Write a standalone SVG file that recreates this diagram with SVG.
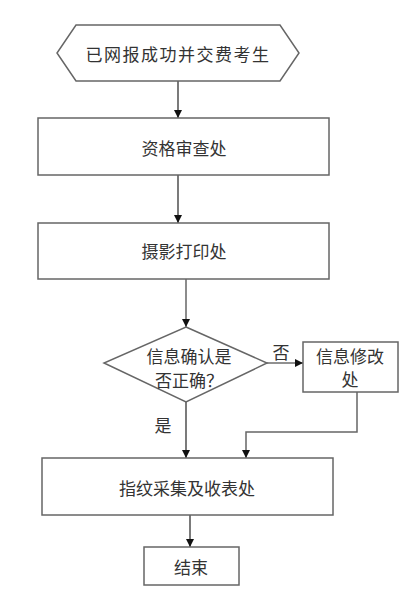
<svg xmlns="http://www.w3.org/2000/svg" width="416" height="611" viewBox="0 0 416 611">
<style>
.box{fill:#fff;stroke:#666;stroke-width:1.5}
.t{font-family:"Noto Sans CJK SC","Noto Sans CJK JP",sans-serif;font-size:17px;fill:#333;text-anchor:middle;dominant-baseline:central}
.c{fill:none;stroke:#222;stroke-width:1.2}
.g{fill:none;stroke:#666;stroke-width:1.5}
</style>
<defs>
<marker id="ah" viewBox="0 0 8 8" refX="8" refY="4" markerWidth="8" markerHeight="8" markerUnits="userSpaceOnUse" orient="auto">
<path d="M0,0 L8,4 L0,8 Z" fill="#111"/>
</marker>
</defs>
<rect width="416" height="611" fill="#fff"/>
<g id="connectors">
<line class="c" x1="178" y1="81" x2="178" y2="118" marker-end="url(#ah)"/>
<line class="c" x1="178" y1="175" x2="178" y2="223" marker-end="url(#ah)"/>
<line class="g" x1="186" y1="279" x2="186" y2="327" marker-end="url(#ah)"/>
<line class="c" x1="267" y1="363" x2="303" y2="363" marker-end="url(#ah)"/>
<line class="c" x1="186" y1="402" x2="186" y2="458" marker-end="url(#ah)"/>
<polyline class="g" points="357,392 357,432 246,432 246,458" marker-end="url(#ah)"/>
<line class="c" x1="190" y1="515" x2="190" y2="547" marker-end="url(#ah)"/>
<text class="t" x="281" y="351">否</text>
<text class="t" x="163" y="424">是</text>
</g>
<g id="start">
<polygon class="box" points="76,25 280,25 299,53 280,81 76,81 57,53"/>
<text class="t" x="178" y="53" font-size="18" letter-spacing="1.5">已网报成功并交费考生</text>
</g>
<g id="review">
<rect class="box" x="38" y="118" width="291" height="57"/>
<text class="t" x="184" y="147" font-size="18">资格审查处</text>
</g>
<g id="photo">
<rect class="box" x="38" y="223" width="291" height="56"/>
<text class="t" x="184" y="250" font-size="18">摄影打印处</text>
</g>
<g id="decision">
<polygon class="box" points="186,327 267,363 186,402 104,363"/>
<text class="t" x="189" y="355">信息确认是</text>
<text class="t" x="189" y="379">否正确？</text>
</g>
<g id="modify">
<rect class="box" x="303" y="342" width="95" height="50"/>
<text class="t" x="350" y="355">信息修改</text>
<text class="t" x="350" y="378">处</text>
</g>
<g id="fingerprint">
<rect class="box" x="42" y="458" width="291" height="57"/>
<text class="t" x="187" y="487" font-size="18">指纹采集及收表处</text>
</g>
<g id="end">
<rect class="box" x="144" y="547" width="95" height="38"/>
<text class="t" x="191" y="566">结束</text>
</g>
</svg>
